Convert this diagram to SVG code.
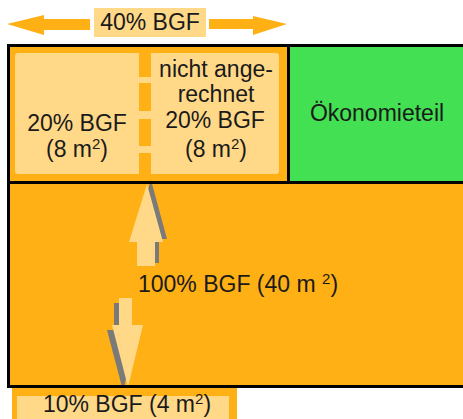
<svg xmlns="http://www.w3.org/2000/svg" width="463" height="419" viewBox="0 0 463 419">
  <style>
    .t { font-family: "Liberation Sans", Arial, sans-serif; font-size: 23px; fill: #1a1a1a; text-anchor: middle; }
    .sup { font-size: 15px; }
    .orange { fill: #FFB015; }
    .light { fill: #FFD888; }
    .shadow { fill: #7a7a7a; }
    .line { fill: #000; }
  </style>
  <rect width="463" height="419" fill="#fff"/>

  <!-- building area: upper zone and lower zone -->
  <g id="upper-zone">
    <rect class="orange" x="10" y="47" width="277" height="134"/>
    <rect class="light" x="15" y="53" width="264" height="121" rx="3"/>
    <!-- dashed divider between the two 20% parts -->
    <rect class="orange" x="139" y="47" width="12" height="30"/>
    <rect class="orange" x="139" y="83" width="12" height="28"/>
    <rect class="orange" x="139" y="119" width="12" height="27"/>
    <rect class="orange" x="139" y="153" width="12" height="28"/>
  </g>
  <g id="part-counted">
    <text class="t" x="77" y="130.5">20% BGF</text>
    <text class="t" x="77" y="157">(8 m<tspan class="sup" dy="-8">2</tspan><tspan dy="8">)</tspan></text>
  </g>
  <g id="part-not-counted">
    <text class="t" x="216" y="77">nicht ange-</text>
    <text class="t" x="216" y="102">rechnet</text>
    <text class="t" x="215" y="127.5">20% BGF</text>
    <text class="t" x="216" y="157">(8 m<tspan class="sup" dy="-8">2</tspan><tspan dy="8">)</tspan></text>
  </g>
  <g id="economy">
    <rect x="290" y="47" width="173" height="134" fill="#42E052"/>
    <text class="t" x="377" y="121">Ökonomieteil</text>
  </g>
  <g id="main-floor">
    <rect class="orange" x="10" y="184" width="453" height="201"/>
  </g>

  <!-- connectors: arrows -->
  <g id="connectors">
    <!-- up arrow -->
    <polygon class="shadow" points="151,180 167,239 159,239 159,263 141,263 141,239 133,239"/>
    <polygon class="light" points="147,184 163,242 155,242 155,266 137,266 137,242 129,242"/>
    <!-- down arrow -->
    <polygon class="shadow" points="114,303 127,303 127,330 138,330 123,391 107,330 114,330"/>
    <polygon class="light" points="119,298 132,298 132,325 143,325 128,387 112,325 119,325"/>
  </g>

  <!-- outline -->
  <g id="outline">
    <rect class="line" x="7" y="44" width="456" height="3"/>
    <rect class="line" x="7" y="44" width="3" height="344"/>
    <rect class="line" x="7" y="181" width="456" height="3"/>
    <rect class="line" x="287" y="44" width="3" height="140"/>
    <rect class="line" x="7" y="385" width="456" height="3"/>
  </g>

  <g id="main-label">
    <text class="t" x="238" y="291.5">100% BGF (40 m <tspan class="sup" dy="-8">2</tspan><tspan dy="8">)</tspan></text>
  </g>

  <g id="outside-area">
    <rect class="orange" x="12" y="388" width="225" height="31"/>
    <rect class="light" x="17" y="396" width="212" height="23"/>
    <text class="t" x="127" y="412">10% BGF (4 m<tspan class="sup" dy="-8">2</tspan><tspan dy="8">)</tspan></text>
  </g>

  <g id="top-span">
    <polygon class="orange" points="7,24 44,15 44,19 90,19 90,30 44,30 44,35"/>
    <polygon class="orange" points="287,24 253,35 253,29 209,29 209,19 253,19 253,16"/>
    <rect class="light" x="94" y="8" width="112" height="29"/>
    <text class="t" x="150" y="29.5">40% BGF</text>
  </g>
</svg>
